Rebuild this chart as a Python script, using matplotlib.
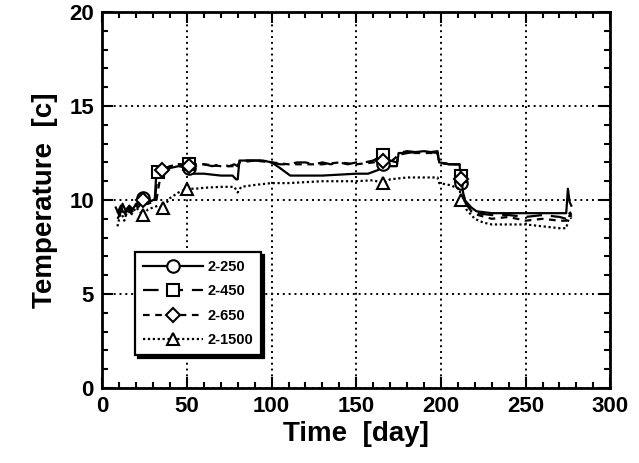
import numpy as np
import matplotlib.pyplot as plt
from matplotlib.ticker import MultipleLocator

plt.rcParams['font.family'] = ['Liberation Sans', 'DejaVu Sans']
plt.rcParams['font.weight'] = 'bold'

# Series 2-250 (solid, circle)
t250 = [8, 10, 12, 14, 16, 18, 20, 22, 24, 26, 28, 30, 31, 32, 35, 40, 45, 51, 53, 60,
        70, 77, 79, 80, 81, 85, 90, 95, 100, 105, 111, 120, 130, 140, 150, 157, 163, 166, 170, 174,
        175, 180, 190, 198, 199, 205, 211, 212, 214, 218, 221, 230, 240, 250, 260, 270, 274, 275, 276, 277]
v250 = [9.6, 9.2, 9.8, 9.4, 9.7, 9.5, 9.8, 9.9, 10.1, 10.0, 9.9, 10.0, 10.0, 11.5, 11.6, 11.7, 11.8, 11.7, 11.4, 11.4,
        11.3, 11.3, 11.1, 11.1, 12.1, 12.1, 12.1, 12.1, 12.0, 11.7, 11.3, 11.3, 11.3, 11.35, 11.4, 11.4, 11.6, 11.9, 11.8, 11.8,
        12.5, 12.5, 12.6, 12.5, 12.0, 11.9, 11.9, 10.9, 10.0, 9.6, 9.4, 9.3, 9.3, 9.3, 9.3, 9.3, 9.3, 10.6, 9.9, 9.7]
m250 = [24, 51, 166, 212]

# Series 2-450 (long dash, square)
t450 = [9, 11, 13, 15, 17, 19, 21, 24, 27, 30, 31, 33, 36, 40, 45, 51, 55, 60, 65, 70,
        75, 78, 80, 81, 85, 90, 95, 100, 105, 110, 115, 120, 125, 130, 135, 140, 145, 150, 155, 160,
        166, 170, 174, 175, 180, 190, 198, 199, 205, 211, 212, 214, 218, 221, 230, 240, 250, 260, 270, 274,
        276, 277]
v450 = [9.3, 9.7, 9.1, 9.6, 9.3, 9.8, 9.6, 9.9, 9.8, 9.9, 10.0, 11.5, 11.6, 11.8, 11.9, 11.9, 11.9, 11.9, 11.8, 11.9,
        11.8, 11.9, 11.8, 12.1, 12.1, 12.1, 12.1, 12.0, 11.9, 11.9, 12.0, 12.0, 11.9, 12.0, 11.9, 12.0, 11.9, 12.0, 12.0, 12.1,
        12.4, 12.1, 12.0, 12.5, 12.6, 12.5, 12.6, 12.0, 11.9, 11.9, 11.3, 10.0, 9.5, 9.3, 9.2, 9.2, 9.1, 9.2, 9.1, 9.0,
        9.4, 9.2]
m450 = [33, 51, 166, 212]

# Series 2-650 (dash, diamond)
t650 = [9, 12, 14, 16, 18, 20, 24, 27, 30, 32, 35, 40, 45, 51, 55, 60, 70, 78, 80, 81,
        90, 100, 110, 120, 130, 140, 150, 160, 166, 170, 175, 180, 190, 198, 199, 205, 211, 212, 214, 218,
        222, 230, 240, 250, 260, 270, 274, 276, 277]
v650 = [9.0, 9.5, 9.2, 9.6, 9.4, 9.7, 10.0, 9.8, 9.9, 10.0, 11.6, 11.8, 11.9, 11.8, 11.9, 11.9, 11.8, 11.8, 11.7, 12.0,
        12.1, 12.0, 11.9, 11.9, 11.9, 12.0, 11.9, 12.0, 12.1, 12.0, 12.4, 12.5, 12.5, 12.5, 12.0, 11.9, 11.9, 11.1, 9.9, 9.4,
        9.2, 9.0, 9.1, 8.9, 9.0, 8.9, 8.9, 9.3, 9.1]
m650 = [24, 35, 51, 166, 212]

# Series 2-1500 (dotted, triangle)
t1500 = [9, 11, 13, 15, 17, 20, 22, 24, 27, 30, 33, 36, 40, 45, 50, 55, 60, 70, 78, 80,
         82, 90, 100, 110, 120, 130, 140, 150, 160, 166, 170, 180, 190, 198, 199, 205, 211, 212, 215, 220,
         225, 230, 240, 250, 260, 270, 274, 276, 277]
v1500 = [8.6, 9.4, 8.9, 9.5, 9.2, 9.6, 9.4, 9.2, 9.5, 9.6, 9.7, 9.6, 10.1, 10.4, 10.6, 10.6, 10.65, 10.7, 10.7, 10.4,
         10.7, 10.8, 10.9, 10.9, 10.95, 11.0, 11.0, 11.0, 11.05, 10.9, 11.1, 11.2, 11.2, 11.2, 10.9, 10.8, 10.6, 10.0, 9.5, 9.0,
         8.8, 8.7, 8.7, 8.7, 8.6, 8.5, 8.5, 9.2, 9.0]
m1500 = [24, 36, 50, 166, 212]

series = [
    ('2-250', t250, v250, m250, '-', 'o'),
    ('2-450', t450, v450, m450, (0, (7, 4)), 's'),
    ('2-650', t650, v650, m650, (0, (3, 2.5)), 'D'),
    ('2-1500', t1500, v1500, m1500, (0, (1, 1.2)), '^'),
]

fig = plt.figure(figsize=(6.39, 4.63), dpi=100)
ax = fig.add_axes([0.16, 0.162, 0.795, 0.812])

for label, t, v, mk, ls, marker in series:
    idx = [t.index(d) for d in mk]
    ms = 7 if marker == 'D' else 9
    ax.plot(t, v, color='black', linestyle=ls, linewidth=1.6, marker=marker,
            markevery=idx, markersize=ms, markerfacecolor='white',
            markeredgecolor='black', markeredgewidth=1.5, label=label)

ax.set_xlim(0, 300)
ax.set_ylim(0, 20)
ax.xaxis.set_major_locator(MultipleLocator(50))
ax.xaxis.set_minor_locator(MultipleLocator(10))
ax.yaxis.set_major_locator(MultipleLocator(5))
ax.yaxis.set_minor_locator(MultipleLocator(1))
ax.tick_params(which='both', direction='in', top=True, right=True, width=1.5)
ax.tick_params(which='major', length=8, labelsize=16, pad=6)
ax.tick_params(which='minor', length=4)
for lab in ax.get_xticklabels() + ax.get_yticklabels():
    lab.set_fontweight('bold')
for s in ax.spines.values():
    s.set_linewidth(2)
ax.grid(True, which='major', color='black', linestyle=(0, (1, 2)), linewidth=1.4)

ax.set_xlabel('Time  [day]', fontsize=20, fontweight='bold', labelpad=3)
ax.set_ylabel('Temperature  [c]', fontsize=20, fontweight='bold', labelpad=8)

leg = ax.legend(loc='lower left', bbox_to_anchor=(0.065, 0.088), borderaxespad=0,
                fancybox=False, shadow={'color': 'black', 'alpha': 1},
                handlelength=4.1, numpoints=1, prop={'weight': 'bold', 'size': 10.5},
                borderpad=0.55, labelspacing=0.7, handletextpad=0.3, framealpha=1)
leg.get_frame().set_edgecolor('black')
leg.get_frame().set_linewidth(1.6)

fig.savefig('out.png', dpi=100)
